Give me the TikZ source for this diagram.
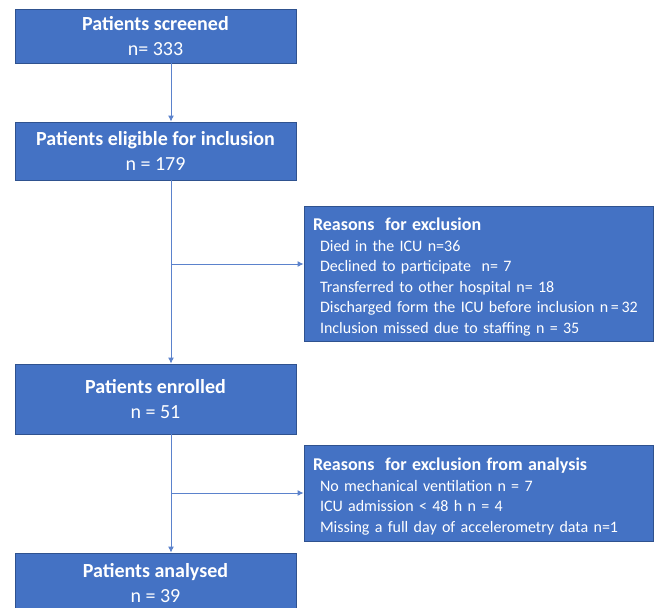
\documentclass[tikz,border=0pt]{standalone}
\usepackage{fontspec}
\setmainfont{Carlito}
\usetikzlibrary{arrows.meta}
\definecolor{boxfill}{HTML}{4472C4}
\definecolor{boxline}{HTML}{2F528F}
\definecolor{arrline}{HTML}{5B82CC}
\newcommand{\sidetitle}[1]{{\fontsize{18}{20}\selectfont\bfseries\rule{0pt}{19.5pt}#1}}
\begin{document}
\begin{tikzpicture}[x=1pt,y=-1pt,
  mainbox/.style={draw=boxline, line width=0.9pt, fill=boxfill, text=white,
    minimum width=281pt, inner sep=0pt, align=center,
    font=\fontsize{20}{24.5}\selectfont},
  sidebox/.style={draw=boxline, line width=0.9pt, fill=boxfill, text=white,
    text width=331pt, inner xsep=9pt, inner ysep=0pt, align=left,
    font=\fontsize{16}{20.5}\selectfont},
  arr/.style={draw=arrline, line width=0.9pt, -{Latex[length=6pt,width=6pt]}}
]
\useasboundingbox (0,0) rectangle (654,608);
\node[mainbox, minimum height=54pt] (b1) at (155.5,36)
  {{\bfseries Patients screened}\\n= 333};
\node[mainbox, minimum height=58pt] (b2) at (155.5,151)
  {{\bfseries Patients eligible for inclusion}\\n = 179};
\node[sidebox, minimum height=135pt] (b3) at (478.5,273.5)
  {\sidetitle{Reasons\ \ for exclusion}\\
   \hspace*{7pt}Died in the ICU n=36\\
   \hspace*{7pt}Declined to participate\ \ n= 7\\
   \hspace*{7pt}Transferred to other hospital n= 18\\
   \hspace*{7pt}Discharged form the ICU before inclusion n\,=\,32\\
   \hspace*{7pt}Inclusion missed due to staffing n = 35};
\node[mainbox, minimum height=70pt] (b4) at (155.5,399)
  {{\bfseries Patients enrolled}\\n = 51};
\node[sidebox, minimum height=96pt] (b5) at (478.5,493)
  {\sidetitle{Reasons\ \ for exclusion from analysis}\\
   \hspace*{7pt}No mechanical ventilation n = 7\\
   \hspace*{7pt}ICU admission < 48 h n = 4\\
   \hspace*{7pt}Missing a full day of accelerometry data n=1};
\node[mainbox, minimum height=60pt] (b6) at (155.5,583)
  {{\bfseries Patients analysed}\\n = 39};
\coordinate (ax) at (171,0);
\coordinate (j1) at (171,264);
\coordinate (j2) at (171,493);
\draw[arr] (b1.south -| ax) -- (b2.north -| ax);
\draw[arr] (b2.south -| ax) -- (b4.north -| ax);
\draw[arr] (j1) -- (j1 -| b3.west);
\draw[arr] (b4.south -| ax) -- (b6.north -| ax);
\draw[arr] (j2) -- (j2 -| b5.west);
\end{tikzpicture}
\end{document}
